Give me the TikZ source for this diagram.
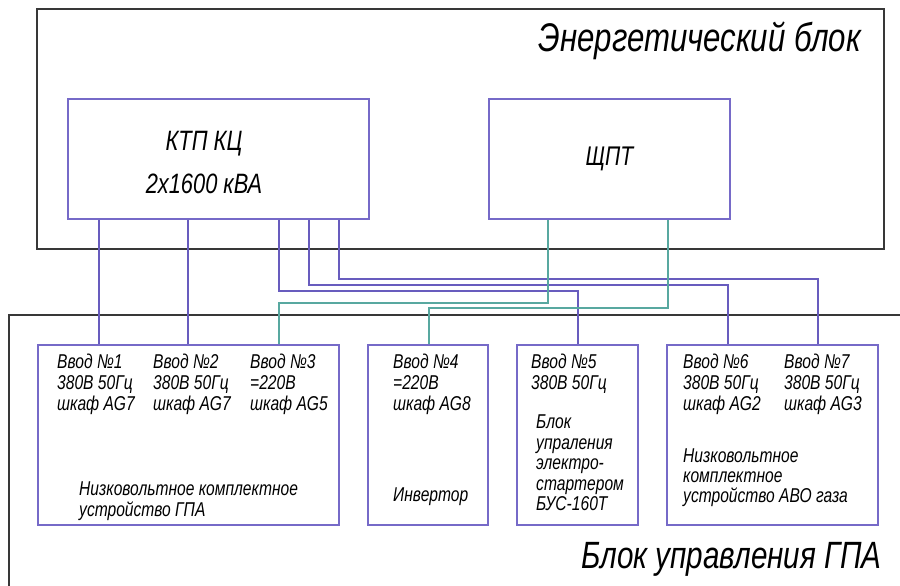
\documentclass[tikz,border=0pt]{standalone}
\usepackage{fontspec}
\setmainfont{Liberation Sans}[FakeStretch=0.78]
\usetikzlibrary{positioning}

\definecolor{blockc}{RGB}{118,106,200}
\definecolor{feedc}{RGB}{104,92,190}
\definecolor{dcc}{RGB}{88,168,160}

\begin{document}
\begin{tikzpicture}[x=1pt, y=-1pt,
    frame/.style={draw=black!78, line width=1.4pt},
    unit/.style={draw=blockc, line width=1.2pt, inner sep=0pt},
    power/.style={draw=feedc, line width=1.1pt},
    dc/.style={draw=dcc, line width=1.1pt},
    lbl/.style={font=\itshape\fontsize{20}{21}\selectfont, align=left, anchor=north west, inner sep=0pt},
    title/.style={font=\itshape\fontsize{40}{42}\selectfont, inner sep=0pt, anchor=base east}
  ]
  \useasboundingbox (0,0) rectangle (900,586);

  % blocks
  \draw[frame] (37,9) rectangle (884,249);
  \draw[frame] (900,315) -- (9,315) -- (9,586);
  \node[title] (energy) at (861,52) {Энергетический блок};
  \node[title, font=\itshape\fontsize{38}{40}\selectfont] (control) at (882,568) {Блок управления ГПА};

  % upper units
  \node[unit, minimum width=301pt, minimum height=120pt] (ktp) at (218.5,159) {};
  \node[font=\itshape\fontsize{28}{43}\selectfont, align=center] (ktptext) at (204,163) {КТП КЦ\\2x1600 кВА};
  \node[unit, minimum width=241pt, minimum height=120pt, font=\itshape\fontsize{27}{30}\selectfont] (shpt) at (609.5,159) {ЩПТ};

  % lower units
  \node[unit, minimum width=301pt, minimum height=180pt] (gpa) at (188.5,435) {};
  \node[unit, minimum width=120pt, minimum height=180pt] (inv) at (428,435) {};
  \node[unit, minimum width=121pt, minimum height=180pt] (bus) at (577.5,435) {};
  \node[unit, minimum width=211pt, minimum height=180pt] (avo) at (772.5,435) {};

  \node[lbl] (in1) at (57,354) {Ввод №1\\380В 50Гц\\шкаф AG7};
  \node[lbl] (in2) at (153,354) {Ввод №2\\380В 50Гц\\шкаф AG7};
  \node[lbl] (in3) at (250,354) {Ввод №3\\=220В\\шкаф AG5};
  \node[lbl] (gpatext) at (79,482) {Низковольтное комплектное\\устройство ГПА};
  \node[lbl] (in4) at (393,354) {Ввод №4\\=220В\\шкаф AG8};
  \node[lbl] (invtext) at (393,488) {Инвертор};
  \node[lbl] (in5) at (531,354) {Ввод №5\\380В 50Гц};
  \node[lbl, font=\itshape\fontsize{20}{20.5}\selectfont] (bustext) at (536,415) {Блок\\упраления\\электро-\\стартером\\БУС-160Т};
  \node[lbl] (in6) at (683,354) {Ввод №6\\380В 50Гц\\шкаф AG2};
  \node[lbl] (in7) at (784,354) {Ввод №7\\380В 50Гц\\шкаф AG3};
  \node[lbl, font=\itshape\fontsize{20}{20}\selectfont] (avotext) at (683,449) {Низковольтное\\комплектное\\устройство АВО газа};

  % taps and turns
  \coordinate (k1) at (99,0);
  \coordinate (k2) at (188,0);
  \coordinate (k3) at (279,0);
  \coordinate (k4) at (309,0);
  \coordinate (k5) at (339,0);
  \coordinate (s1) at (548,0);
  \coordinate (s2) at (668,0);
  \coordinate (r5) at (578,291);
  \coordinate (r6) at (728,285);
  \coordinate (r7) at (818,279);
  \coordinate (r3) at (279,303);
  \coordinate (r4) at (429,308);

  \draw[power] (ktp.south -| k1) -- (gpa.north -| k1);
  \draw[power] (ktp.south -| k2) -- (gpa.north -| k2);
  \draw[power] (ktp.south -| k3) |- (r5) -- (r5 |- bus.north);
  \draw[power] (ktp.south -| k4) |- (r6) -- (r6 |- avo.north);
  \draw[power] (ktp.south -| k5) |- (r7) -- (r7 |- avo.north);
  \draw[dc] (shpt.south -| s1) |- (r3) -- (r3 |- gpa.north);
  \draw[dc] (shpt.south -| s2) |- (r4) -- (r4 |- inv.north);
\end{tikzpicture}
\end{document}
